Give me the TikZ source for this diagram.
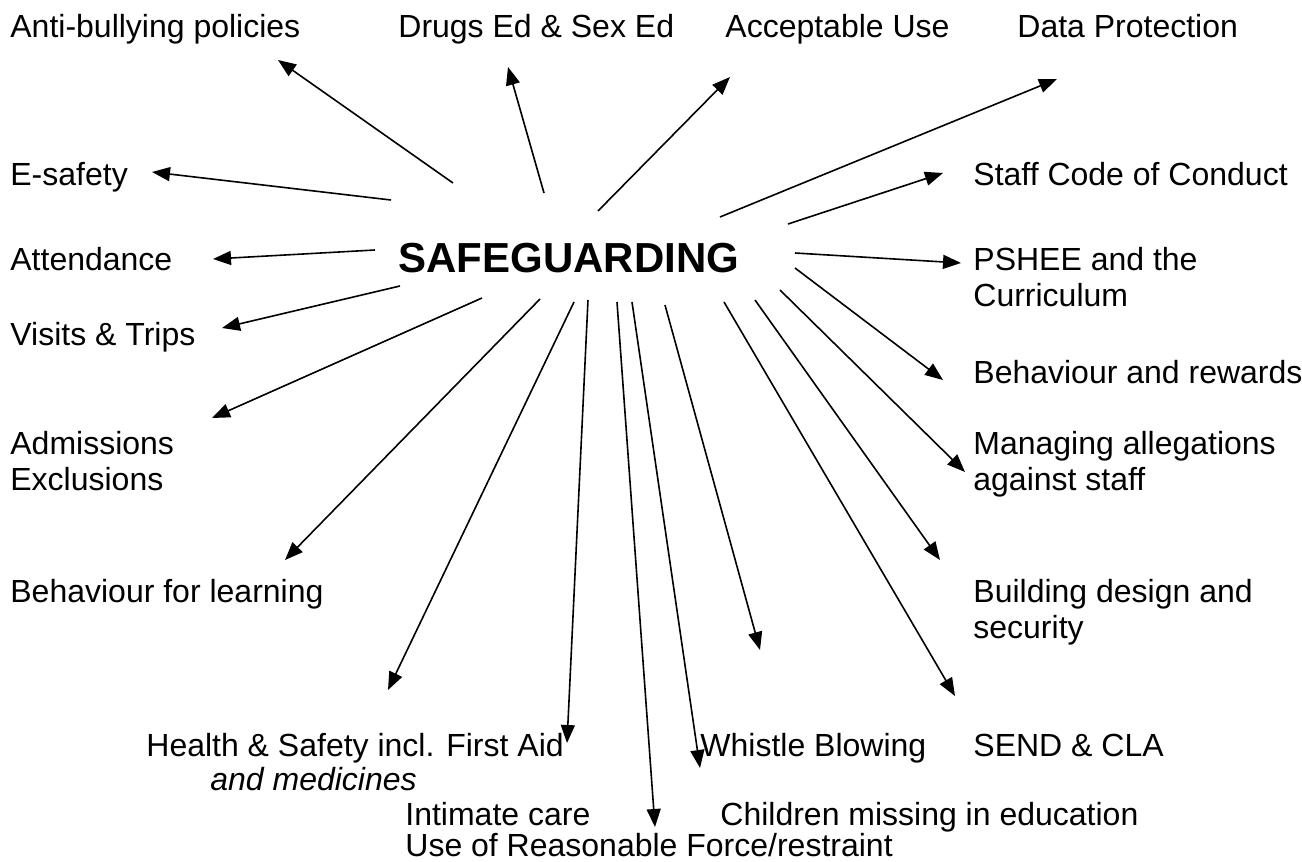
\documentclass[tikz,border=0pt]{standalone}
\usepackage{fontspec}
\setmainfont{Liberation Sans}
\usetikzlibrary{arrows.meta}
\tikzset{
  lbl/.style={anchor=base west, inner sep=0pt, font=\fontsize{16}{18.4}\selectfont},
  title/.style={anchor=base west, inner sep=0pt, font=\fontsize{21}{24}\selectfont\bfseries},
  link/.style={line width=0.8pt, -{Triangle[length=9pt,width=7pt]}}
}
\begin{document}
\begin{tikzpicture}[x=0.5pt,y=-0.5pt]
\useasboundingbox (0,0) rectangle (1302,862);
% labels
\node[lbl] (ab) at (10,38) {Anti-bullying policies};
\node[lbl] (dr) at (398,38) {Drugs Ed \& Sex Ed};
\node[lbl] (au) at (725,38) {Acceptable Use};
\node[lbl] (dp) at (1017,38) {Data Protection};
\node[lbl] (es) at (10,185) {E-safety};
\node[lbl] (sc) at (973,185) {Staff Code of Conduct};
\node[lbl] (at) at (10,270) {Attendance};
\node[title] (sg) at (398,272) {SAFEGUARDING};
\node[lbl] (psa) at (973,270) {PSHEE and the};
\node[lbl] (psb) at (973,306) {Curriculum};
\node[lbl] (vt) at (10,345) {Visits \& Trips};
\node[lbl] (br) at (973,383) {Behaviour and rewards};
\node[lbl] (ada) at (10,454) {Admissions};
\node[lbl] (adb) at (10,490) {Exclusions};
\node[lbl] (maa) at (973,454) {Managing allegations};
\node[lbl] (mab) at (973,490) {against staff};
\node[lbl] (bl) at (10,602) {Behaviour for learning};
\node[lbl] (bda) at (973,602) {Building design and};
\node[lbl] (bdb) at (973,638) {security};
\node[lbl] (hsa) at (146,756) {Health \& Safety incl. First Aid};
\node[lbl] (hsb) at (210,790) {\itshape and medicines};
\node[lbl] (wb) at (700,756) {Whistle Blowing};
\node[lbl] (se) at (973,756) {SEND \& CLA};
\node[lbl] (ic) at (405,825) {Intimate care};
\node[lbl] (cm) at (720,825) {Children missing in education};
\node[lbl] (uf) at (405,856) {Use of Reasonable Force/restraint};
% arrow start points (around the title)
\coordinate (s1) at (453,183);
\coordinate (s2) at (544,193);
\coordinate (s3) at (598,211);
\coordinate (s4) at (720,217);
\coordinate (s5) at (391,200);
\coordinate (s6) at (788,224);
\coordinate (s7) at (375,250);
\coordinate (s8) at (795,253);
\coordinate (s9) at (400,286);
\coordinate (s10) at (795,268);
\coordinate (s11) at (482,298);
\coordinate (s12) at (780,290);
\coordinate (s13) at (755,300);
\coordinate (s14) at (540,299);
\coordinate (s15) at (724,302);
\coordinate (s16) at (665,305);
\coordinate (s17) at (632,302);
\coordinate (s18) at (617,302);
\coordinate (s19) at (588,300);
\coordinate (s20) at (574,302);
% arrow tips
\coordinate (t1) at (278,60);
\coordinate (t2) at (508,67);
\coordinate (t3) at (730,77);
\coordinate (t4) at (1057,79);
\coordinate (t5) at (152,172);
\coordinate (t6) at (943,173);
\coordinate (t7) at (213,259);
\coordinate (t8) at (961,263);
\coordinate (t9) at (222,328);
\coordinate (t10) at (943,380);
\coordinate (t11) at (212,418);
\coordinate (t12) at (965,472);
\coordinate (t13) at (940,560);
\coordinate (t14) at (285,560);
\coordinate (t15) at (955,696);
\coordinate (t16) at (760,650);
\coordinate (t17) at (700,768);
\coordinate (t18) at (655,827);
\coordinate (t19) at (567,743);
\coordinate (t20) at (388,690);
\foreach \i in {1,...,20} { \draw[link] (s\i) -- (t\i); }
\end{tikzpicture}
\end{document}
